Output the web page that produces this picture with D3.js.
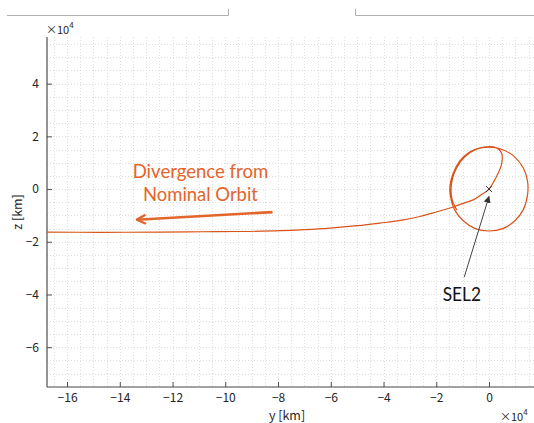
<!DOCTYPE html>
<html>
<head>
<meta charset="utf-8">
<script src="https://cdn.jsdelivr.net/npm/d3@7"></script>
<style>
  html, body { margin: 0; padding: 0; background: #fff; }
  svg { display: block; }
</style>
</head>
<body>
<svg id="chart" width="534" height="423"></svg>
<script>
// ---- data (units of 1e4 km) ----
const xDomain = [-16.76, 1.80];
const yDomain = [-7.51, 5.77];
const xTicks = [-16, -14, -12, -10, -8, -6, -4, -2, 0];
const xTickLabels = ["−16", "−14", "−12", "−10", "−8", "−6", "−4", "−2", "0"];
const yTicks = [-6, -4, -2, 0, 2, 4];
const yTickLabels = ["−6", "−4", "−2", "0", "2", "4"];
const minorStep = 0.5;

// trajectory in time order: around the halo orbit, then divergence to the left
const trajY = [-1.22, -1.40, -1.44, -1.38, -1.22, -0.92, -0.50, 0.00, 0.50, 0.95, 1.30, 1.46, 1.46, 1.30, 0.98, 0.52, 0.00, -0.52, -0.98, -1.30, -1.46, -1.48, -1.36, -1.12, -0.75, -0.30, 0.16,
  0.38, 0.49, 0.50, 0.45, 0.35, 0.19, 0.00, -0.30, -0.60, -1.10, -1.48, -2.00, -2.62, -3.30, -4.13, -5.00, -6.03, -7.00, -7.92, -9.50, -10.96, -12.50, -14.75, -16.76];
const trajZ = [-0.80, -0.40, 0.00, 0.42, 0.82, 1.22, 1.50, 1.59, 1.50, 1.24, 0.80, 0.30, -0.22, -0.78, -1.20, -1.50, -1.59, -1.50, -1.20, -0.80, -0.30, 0.12, 0.60, 1.05, 1.40, 1.57, 1.60,
  1.50, 1.32, 1.11, 0.85, 0.61, 0.30, 0.00, -0.22, -0.41, -0.58, -0.72, -0.87, -1.04, -1.18, -1.29, -1.39, -1.48, -1.54, -1.58, -1.61, -1.62, -1.63, -1.64, -1.63];

const sel2 = [0, 0];
const sel2Label = "SEL2";
const sel2Text = [-1.03, -4.23];
const sel2Arrow = [[-0.94, -3.34], [0.0, -0.28]];
const divLabel = ["Divergence from", "Nominal Orbit"];
const divTextPos = [[-10.94, 0.42], [-10.94, -0.47]];
const divTextWidths = [135.6, 115];
const divArrow = [[-8.21, -0.875], [-13.36, -1.165]];

// ---- layout ----
const svg = d3.select("#chart");
const L = 47, R = 536.5, T = 37, B = 387;
const x = d3.scaleLinear().domain(xDomain).range([L, R]);
const y = d3.scaleLinear().domain(yDomain).range([B, T]);

const orange = "#D95319";
const textOrange = "#E3652C";
const axisColor = "#4d4d4d";
const tickFont = "'Noto Sans CJK JP', 'Noto Sans', sans-serif";

// top decorative brackets (cropped figure frame)
const deco = svg.append("g").attr("stroke", "#b0b0b0").attr("fill", "none").attr("stroke-width", 1);
deco.append("path").attr("d", "M7,15.5H228.5V9");
deco.append("path").attr("d", "M534,15.5H355.5V9");

svg.append("defs").append("clipPath").attr("id", "clip")
  .append("rect").attr("x", L).attr("y", T).attr("width", R - L).attr("height", B - T);

// minor grid
const gx = d3.range(Math.ceil(xDomain[0] / minorStep) * minorStep, xDomain[1], minorStep);
const gy = d3.range(Math.ceil(yDomain[0] / minorStep) * minorStep, yDomain[1], minorStep);
const grid = svg.append("g").attr("stroke", "#d6d6d6").attr("stroke-width", 0.8)
  .attr("stroke-dasharray", "1,2");
grid.selectAll("line.v").data(gx).join("line").attr("class", "v")
  .attr("x1", d => Math.round(x(d)) + 0.5).attr("x2", d => Math.round(x(d)) + 0.5)
  .attr("y1", T).attr("y2", B);
grid.selectAll("line.h").data(gy).join("line").attr("class", "h")
  .attr("y1", d => Math.round(y(d)) + 0.5).attr("y2", d => Math.round(y(d)) + 0.5)
  .attr("x1", L).attr("x2", R);

// axes
const xAxis = d3.axisBottom(x).tickValues(xTicks).tickSizeInner(-5).tickSizeOuter(0)
  .tickPadding(6).tickFormat((d, i) => xTickLabels[i]);
const yAxis = d3.axisLeft(y).tickValues(yTicks).tickSizeInner(-5).tickSizeOuter(0)
  .tickPadding(8).tickFormat((d, i) => yTickLabels[i]);

const gX = svg.append("g").attr("transform", `translate(0,${B})`).call(xAxis);
const gY = svg.append("g").attr("transform", `translate(${L},0)`).call(yAxis);
[gX, gY].forEach(g => {
  g.select(".domain").attr("stroke", axisColor).attr("stroke-width", 1.2);
  g.selectAll(".tick line").attr("stroke", axisColor).attr("stroke-width", 1);
  g.selectAll(".tick text").attr("fill", "#262626").style("font-family", tickFont).style("font-size", "12px");
});
gX.select(".domain").attr("d", `M${L},0H${R}`);
gY.select(".domain").attr("d", `M0,${B}V${T}`);

// exponent labels
function expLabel(xp, yp) {
  const t = svg.append("text").attr("x", xp).attr("y", yp).attr("fill", "#262626")
    .style("font-family", tickFont).style("font-size", "11px");
  t.append("tspan").text("×10");
  t.append("tspan").attr("dy", -6).style("font-size", "8px").text("4");
}
expLabel(46, 34);
expLabel(500, 421);

// axis titles
svg.append("text").attr("x", 287).attr("y", 420).attr("text-anchor", "middle")
  .attr("fill", "#262626").style("font-family", tickFont).style("font-size", "12.5px").text("y [km]");
svg.append("text").attr("transform", `translate(22,${(T + B) / 2}) rotate(-90)`).attr("text-anchor", "middle")
  .attr("fill", "#262626").style("font-family", tickFont).style("font-size", "12.5px").text("z [km]");

// trajectory
const pts = trajY.map((v, i) => [v, trajZ[i]]);
const line = d3.line().x(d => x(d[0])).y(d => y(d[1])).curve(d3.curveCatmullRom.alpha(0.5));
svg.append("path").attr("clip-path", "url(#clip)").attr("d", line(pts))
  .attr("fill", "none").attr("stroke", orange).attr("stroke-width", 1.2);

// SEL2 marker
const sx = x(sel2[0]), sy = y(sel2[1]);
svg.append("path").attr("d", `M${sx - 3},${sy - 3}L${sx + 3},${sy + 3}M${sx - 3},${sy + 3}L${sx + 3},${sy - 3}`)
  .attr("stroke", "#333").attr("stroke-width", 1);

// arrows
const defs = svg.select("defs");
defs.append("marker").attr("id", "tri").attr("viewBox", "0 0 10 10").attr("refX", 9).attr("refY", 5)
  .attr("markerWidth", 7).attr("markerHeight", 7).attr("markerUnits", "userSpaceOnUse").attr("orient", "auto")
  .append("path").attr("d", "M0,0L10,5L0,10Z").attr("fill", "#333");
defs.append("marker").attr("id", "chev").attr("viewBox", "0 0 12 12").attr("refX", 11).attr("refY", 6)
  .attr("markerWidth", 12).attr("markerHeight", 12).attr("markerUnits", "userSpaceOnUse").attr("orient", "auto")
  .append("path").attr("d", "M2,1.5L11,6L2,10.5").attr("fill", "none").attr("stroke", textOrange)
  .attr("stroke-width", 2.4).attr("stroke-linejoin", "miter");

svg.append("line")
  .attr("x1", x(sel2Arrow[0][0])).attr("y1", y(sel2Arrow[0][1]))
  .attr("x2", x(sel2Arrow[1][0])).attr("y2", y(sel2Arrow[1][1]))
  .attr("stroke", "#444").attr("stroke-width", 1).attr("marker-end", "url(#tri)");

svg.append("line")
  .attr("x1", x(divArrow[0][0])).attr("y1", y(divArrow[0][1]))
  .attr("x2", x(divArrow[1][0])).attr("y2", y(divArrow[1][1]))
  .attr("stroke", textOrange).attr("stroke-width", 2.6).attr("marker-end", "url(#chev)");

// annotation texts
const annFont = "Lato, 'Open Sans', sans-serif";
divLabel.forEach((s, i) => {
  svg.append("text").attr("x", x(divTextPos[i][0])).attr("y", y(divTextPos[i][1]))
    .attr("text-anchor", "middle").attr("fill", textOrange)
    .attr("textLength", divTextWidths[i]).attr("lengthAdjust", "spacingAndGlyphs")
    .style("font-family", annFont).style("font-size", "19.5px").text(s);
});
svg.append("text").attr("x", x(sel2Text[0])).attr("y", y(sel2Text[1]))
  .attr("text-anchor", "middle").attr("fill", "#111")
  .attr("textLength", 38.3).attr("lengthAdjust", "spacingAndGlyphs")
  .style("font-family", annFont).style("font-size", "19.5px").text(sel2Label);
</script>
</body>
</html>
